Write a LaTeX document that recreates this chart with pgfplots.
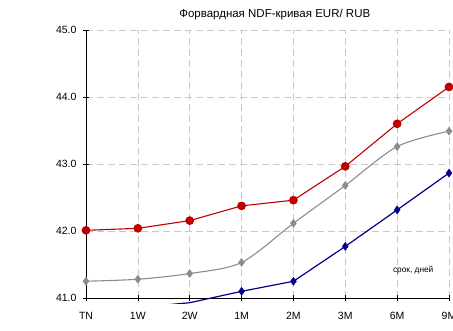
\documentclass[border=0pt]{standalone}
\usepackage{pgfplots}
\pgfplotsset{compat=1.18}
\usepackage{fontspec}
\setmainfont{Liberation Sans}

\definecolor{fwdred}{RGB}{192,0,0}
\definecolor{fwdgray}{RGB}{140,140,140}
\definecolor{fwdblue}{RGB}{0,0,140}
\definecolor{gridgray}{RGB}{200,200,200}

\begin{document}
\begin{tikzpicture}[x=1pt,y=1pt]
\begin{axis}[
  at={(86pt,301pt)}, anchor=north west,
  scale only axis, width=363pt, height=268pt,
  xmin=0, xmax=7, ymin=41, ymax=45,
  xtick={0,...,7}, xticklabels={TN,1W,2W,1M,2M,3M,6M,9M},
  ytick={41,42,43,44,45},
  /pgf/number format/fixed,
  /pgf/number format/fixed zerofill,
  /pgf/number format/precision=1,
  /pgf/number format/assume math mode=true,
  axis x line*=bottom, axis y line*=left,
  axis line style={black, line width=0.8pt, -},
  tick align=center, major tick length=6pt,
  tick style={black, line width=0.6pt},
  grid=major,
  major grid style={gridgray, dash pattern=on 7pt off 4pt, line width=0.6pt},
  ticklabel style={font=\fontsize{10.5}{12}\selectfont},
  xticklabel style={yshift=-8pt},
  yticklabel style={xshift=-3pt},
  title={Форвардная NDF-кривая EUR/ RUB},
  title style={at={(0.52,1)}, anchor=base, yshift=6.3pt, font=\fontsize{11.5}{13}\selectfont},
]
\addplot[fwdgray, line width=1.1pt, smooth, tension=0.5,
  mark=diamond*, mark size=3.5pt, mark options={solid, fill=fwdgray}]
  coordinates {(0,41.25) (1,41.28) (2,41.365) (3,41.53) (4,42.115) (5,42.68) (6,43.26) (7,43.49)};
\addplot[fwdred, line width=1.1pt,
  mark=*, mark size=3.8pt, mark options={solid, fill=fwdred}]
  coordinates {(0,42.01) (1,42.04) (2,42.155) (3,42.375) (4,42.46) (5,42.965) (6,43.60) (7,44.15)};
\node[font=\fontsize{8.3}{10}\selectfont] at (axis cs:6.31,41.42) {срок, дней};
\end{axis}
% the lower series dips below 41.0 and is shown a few points past the axis line;
% points under 41.0 carry no marker
\begin{axis}[
  at={(86pt,301pt)}, anchor=north west,
  scale only axis, width=363pt, height=273.4pt,
  xmin=0, xmax=7, ymin=40.92, ymax=45,
  hide axis, clip=true,
]
\addplot[fwdblue, line width=1.2pt, no marks]
  coordinates {(0,40.78) (1,40.86) (2,40.93) (3,41.10) (4,41.25) (5,41.77) (6,42.315) (7,42.865)};
\addplot[fwdblue, only marks, mark=diamond*, mark size=4pt,
  mark options={solid, fill=fwdblue}]
  coordinates {(3,41.10) (4,41.25) (5,41.77) (6,42.315) (7,42.865)};
\end{axis}
\pgfresetboundingbox
\useasboundingbox (0,0) rectangle (453,331);
\end{tikzpicture}
\end{document}
